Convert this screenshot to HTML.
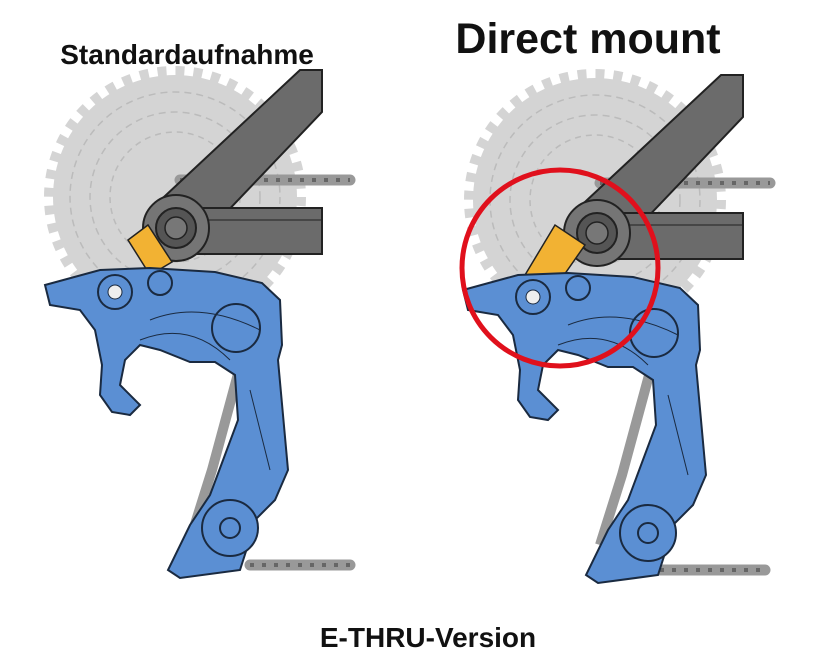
<!DOCTYPE html>
<html><head><meta charset="utf-8"><style>
html,body{margin:0;padding:0;background:#fff;width:815px;height:672px;overflow:hidden}
svg{display:block}
text{font-family:"Liberation Sans",sans-serif;font-weight:bold;fill:#111}
</style></head><body>
<svg width="815" height="672" viewBox="0 0 815 672">
<defs>
<g id="cas">
  <circle cx="0" cy="0" r="122" fill="#d4d4d4"/>
  <circle cx="0" cy="0" r="126" fill="none" stroke="#d4d4d4" stroke-width="10" stroke-dasharray="9 9"/>
  <circle cx="0" cy="0" r="105" fill="none" stroke="#bbb" stroke-width="1.5" stroke-dasharray="7 5"/>
  <circle cx="0" cy="0" r="85" fill="none" stroke="#bbb" stroke-width="1.5" stroke-dasharray="7 5"/>
  <circle cx="0" cy="0" r="65" fill="none" stroke="#bbb" stroke-width="1.5" stroke-dasharray="6 5"/>
</g>
<g id="chainTop">
  <path d="M0 0 H170" stroke="#999" stroke-width="11" fill="none" stroke-linecap="round"/>
  <path d="M0 0 H170" stroke="#666" stroke-width="4" fill="none" stroke-dasharray="4 8"/>
</g>
<g id="frame">
  <polygon points="150,210 300,70 322,70 322,112 200,240" fill="#6b6b6b" stroke="#222" stroke-width="2"/>
  <rect x="185" y="208" width="137" height="46" fill="#6b6b6b" stroke="#222" stroke-width="2"/>
  <line x1="200" y1="220" x2="322" y2="220" stroke="#222"/>
  <circle cx="176" cy="228" r="33" fill="#757575" stroke="#222" stroke-width="2"/>
  <circle cx="176" cy="228" r="20" fill="#555" stroke="#222" stroke-width="2"/>
  <circle cx="176" cy="228" r="11" fill="#777" stroke="#222" stroke-width="1.5"/>
</g>
<g id="der">
  <path d="M45 285 L100 270 L150 268 L215 272 L262 283 L280 300 L282 345 L278 360 L288 470 L275 500 L255 520 L248 545 L240 570 L180 578 L168 570 L190 525 L210 495 L238 420 L235 375 L215 362 L190 362 L160 350 L140 345 L125 360 L120 385 L140 405 L130 415 L112 412 L100 395 L102 365 L95 330 L80 310 L50 305 Z" fill="#5b8fd3" stroke="#1a2a40" stroke-width="2"/>
  <circle cx="115" cy="292" r="17" fill="#5b8fd3" stroke="#1a2a40" stroke-width="2"/>
  <circle cx="115" cy="292" r="7" fill="#eee" stroke="#1a2a40"/>
  <circle cx="160" cy="283" r="12" fill="#5b8fd3" stroke="#1a2a40" stroke-width="2"/>
  <circle cx="236" cy="328" r="24" fill="#5b8fd3" stroke="#1a2a40" stroke-width="2"/>
  <circle cx="230" cy="528" r="28" fill="#5b8fd3" stroke="#1a2a40" stroke-width="2"/>
  <circle cx="230" cy="528" r="10" fill="#5b8fd3" stroke="#1a2a40" stroke-width="2"/>
  <path d="M150 320 Q200 300 260 330 M140 340 Q190 320 230 360 M250 390 L270 470" stroke="#1a2a40" fill="none"/>
</g>
</defs>
<!-- left -->
<use href="#cas" transform="translate(175,197)"/>
<use href="#chainTop" transform="translate(180,180)"/>
<path d="M250 565 H350" stroke="#999" stroke-width="11" stroke-linecap="round"/>
<path d="M250 565 H350" stroke="#666" stroke-width="4" stroke-dasharray="4 8"/>
<path d="M258 300 L212 470 L190 540" stroke="#999" stroke-width="10" fill="none"/>
<use href="#frame"/>
<polygon points="128,240 148,225 172,262 150,275" fill="#f2b233" stroke="#222" stroke-width="1.5"/>
<use href="#der"/>
<!-- right -->
<use href="#cas" transform="translate(595,200)"/>
<use href="#chainTop" transform="translate(600,183)"/>
<path d="M660 570 H765" stroke="#999" stroke-width="11" stroke-linecap="round"/>
<path d="M660 570 H765" stroke="#666" stroke-width="4" stroke-dasharray="4 8"/>
<path d="M668 305 L622 475 L600 545" stroke="#999" stroke-width="10" fill="none"/>
<use href="#frame" transform="translate(421,5)"/>
<polygon points="522,280 555,225 585,245 548,298" fill="#f2b233" stroke="#222" stroke-width="1.5"/>
<use href="#der" transform="translate(418,5)"/>
<circle cx="560" cy="268" r="98" fill="none" stroke="#e0101c" stroke-width="5"/>
<!-- labels -->
<text x="187" y="64" font-size="28" text-anchor="middle">Standardaufnahme</text>
<text x="588" y="53" font-size="43" text-anchor="middle">Direct mount</text>
<text x="428" y="647" font-size="28" text-anchor="middle">E-THRU-Version</text>
</svg>
</body></html>
